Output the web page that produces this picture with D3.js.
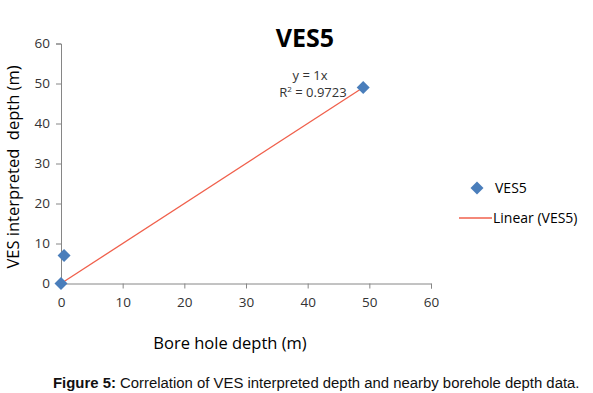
<!DOCTYPE html>
<html><head><meta charset="utf-8">
<script src="https://cdn.jsdelivr.net/npm/d3@7"></script>
<style>body{margin:0;background:#fff}svg{display:block}</style>
</head><body>
<script>
const boreHole = [0, 0.5, 49];
const vesDepth = [0, 7, 49];
const xTicks = [0, 10, 20, 30, 40, 50, 60];
const yTicks = [0, 10, 20, 30, 40, 50, 60];
const slope = 1;
const r2 = "0.9723";

const W = 593, H = 393;
const svg = d3.select("body").append("svg").attr("width", W).attr("height", H);
const x = d3.scaleLinear().domain([0, 60]).range([61, 431]);
const y = d3.scaleLinear().domain([0, 60]).range([283.5, 43.5]);
const font = "'Open Sans', 'Noto Sans', sans-serif";
const axisColor = "#868686";
const labelColor = "#333";

const xa = svg.append("g").attr("transform", `translate(0,${y(0)})`)
  .call(d3.axisBottom(x).tickValues(xTicks).tickSize(5).tickPadding(9));
const ya = svg.append("g").attr("transform", `translate(${x(0)},0)`)
  .call(d3.axisLeft(y).tickValues(yTicks).tickSize(5).tickPadding(6));
[xa, ya].forEach(a => {
  a.select(".domain").attr("stroke", axisColor);
  a.selectAll(".tick line").attr("stroke", axisColor);
  a.selectAll(".tick text").attr("fill", labelColor).attr("font-family", font).attr("font-size", 13.5);
});

// trendline
const xMax = d3.max(boreHole);
svg.append("line")
  .attr("x1", x(0)).attr("y1", y(0))
  .attr("x2", x(xMax)).attr("y2", y(slope * xMax))
  .attr("stroke", "#f0604c").attr("stroke-width", 1.3);

// points
const diamond = "M0,-6.5L6.5,0L0,6.5L-6.5,0Z";
svg.selectAll("path.pt").data(boreHole).join("path").attr("class", "pt")
  .attr("d", diamond)
  .attr("transform", (d, i) => `translate(${x(d)},${y(vesDepth[i])})`)
  .attr("fill", "#4a7ebb");

// title
svg.append("text").attr("x", 305).attr("y", 47).attr("text-anchor", "middle")
  .attr("font-family", font).attr("font-weight", "bold").attr("font-size", 25).attr("fill", "#000")
  .text("VES5");

// equation
svg.append("text").attr("x", 310).attr("y", 80).attr("text-anchor", "middle")
  .attr("font-family", font).attr("font-size", 13).attr("fill", labelColor).text("y = " + slope + "x");
const rt = svg.append("text").attr("x", 313).attr("y", 97).attr("text-anchor", "middle")
  .attr("font-family", font).attr("font-size", 13).attr("fill", labelColor);
rt.append("tspan").text("R");
rt.append("tspan").attr("dy", -5).attr("font-size", 8).text("2");
rt.append("tspan").attr("dy", 5).text(" = " + r2);

// axis titles
svg.append("text").attr("transform", "translate(19,167) rotate(-90)").attr("text-anchor", "middle")
  .attr("font-family", font).attr("font-size", 16.5).attr("fill", "#000")
  .attr("xml:space", "preserve").text("VES interpreted  depth (m)");
svg.append("text").attr("x", 230).attr("y", 349).attr("text-anchor", "middle")
  .attr("font-family", font).attr("font-size", 16.5).attr("fill", "#000")
  .text("Bore hole depth (m)");

// legend
svg.append("path").attr("d", diamond).attr("transform", "translate(477,188)").attr("fill", "#4a7ebb");
svg.append("text").attr("x", 495).attr("y", 193).attr("font-family", font).attr("font-size", 14).attr("fill", "#000").text("VES5");
svg.append("line").attr("x1", 459).attr("x2", 492).attr("y1", 218).attr("y2", 218).attr("stroke", "#f0604c").attr("stroke-width", 1.5);
svg.append("text").attr("x", 493).attr("y", 223).attr("font-family", font).attr("font-size", 14).attr("fill", "#000").text("Linear (VES5)");

// caption
const cap = svg.append("text").attr("x", 53).attr("y", 388).attr("font-family", "'Liberation Sans', Arial, sans-serif").attr("font-size", 14.9).attr("fill", "#111");
cap.append("tspan").attr("font-weight", "bold").text("Figure 5:");
cap.append("tspan").text(" Correlation of VES interpreted depth and nearby borehole depth data.");
</script>
</body></html>
